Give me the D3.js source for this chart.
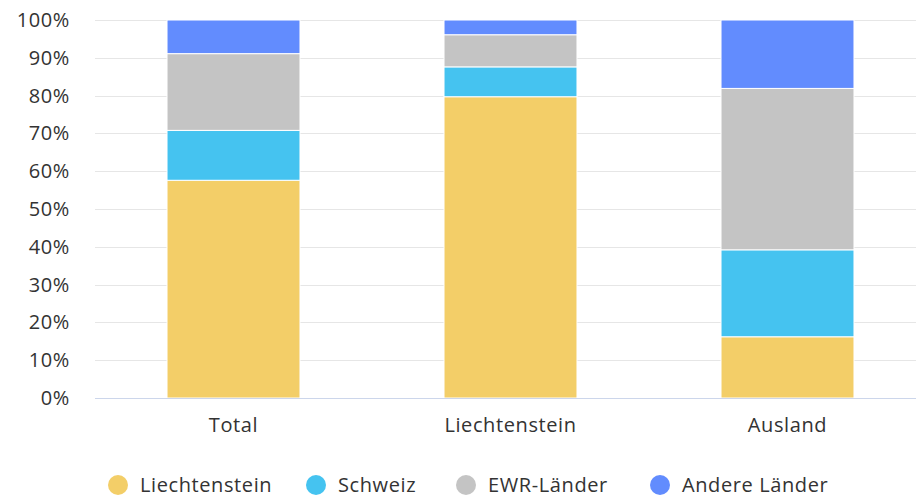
<!doctype html>
<html lang="de">
<head>
<meta charset="UTF-8" />
<title>Anteile nach Herkunft</title>
<script src="https://cdn.jsdelivr.net/npm/d3@7"></script>
<style>
  body { margin: 0; background: #fff; }
  text { font-family: "Open Sans", Lato, sans-serif; fill: #333; letter-spacing: 0.6px; }
</style>
</head>
<body>
<div id="chart"></div>
<script>
// data (shares in %)
const categories = ["Total", "Liechtenstein", "Ausland"];
const seriesNames = ["Liechtenstein", "Schweiz", "EWR-Länder", "Andere Länder"];
const liechtenstein = [57.6, 79.7, 16.2];
const schweiz = [13.2, 7.9, 23.0];
const ewr = [20.3, 8.5, 42.7];
const andere = [8.9, 3.9, 18.1];
const yTicks = [0, 10, 20, 30, 40, 50, 60, 70, 80, 90, 100];
const colors = ["#f3ce68", "#45c3f0", "#c4c4c4", "#628cfe"];

const width = 916, height = 499;
const marginLeft = 95, marginTop = 20, plotBottom = 398;
const fontSize = 20;

const rows = categories.map((c, i) => ({
  cat: c,
  "Liechtenstein": liechtenstein[i],
  "Schweiz": schweiz[i],
  "EWR-Länder": ewr[i],
  "Andere Länder": andere[i]
}));

const stack = d3.stack().keys(seriesNames).offset(d3.stackOffsetExpand);
const layers = stack(rows);

const x = d3.scaleBand()
  .domain(categories)
  .range([marginLeft, 926])
  .paddingInner(0.52)
  .paddingOuter(0.26);

const y = d3.scaleLinear().domain([0, 1]).range([plotBottom, marginTop]);

const svg = d3.select("#chart").append("svg")
  .attr("width", width)
  .attr("height", height);

// grid lines
svg.append("g")
  .selectAll("line")
  .data(yTicks.filter(t => t > 0))
  .join("line")
  .attr("x1", marginLeft)
  .attr("x2", width)
  .attr("y1", d => Math.round(y(d / 100)) + 0.5)
  .attr("y2", d => Math.round(y(d / 100)) + 0.5)
  .attr("stroke", "#e6e6e6");

// y axis labels
svg.append("g")
  .selectAll("text")
  .data(yTicks)
  .join("text")
  .attr("x", 70)
  .attr("y", d => y(d / 100))
  .attr("dy", "0.35em")
  .attr("text-anchor", "end")
  .attr("font-size", fontSize)
  .text(d => d + "%");

// bars
svg.append("g")
  .selectAll("g")
  .data(layers)
  .join("g")
  .attr("fill", (d, i) => colors[i])
  .selectAll("rect")
  .data(d => d)
  .join("rect")
  .attr("x", d => x(d.data.cat))
  .attr("width", x.bandwidth())
  .attr("y", d => y(d[1]))
  .attr("height", d => y(d[0]) - y(d[1]))
  .attr("stroke", "#fff")
  .attr("stroke-width", 1);

// baseline
svg.append("line")
  .attr("x1", marginLeft)
  .attr("x2", width)
  .attr("y1", plotBottom + 0.5)
  .attr("y2", plotBottom + 0.5)
  .attr("stroke", "#ccd6eb");

// x axis labels
svg.append("g")
  .selectAll("text")
  .data(categories)
  .join("text")
  .attr("x", d => x(d) + x.bandwidth() / 2)
  .attr("y", 425)
  .attr("dy", "0.35em")
  .attr("text-anchor", "middle")
  .attr("font-size", fontSize)
  .text(d => d);

// legend
const legendX = [118, 316, 466, 660];
const legend = svg.append("g")
  .selectAll("g")
  .data(seriesNames)
  .join("g")
  .attr("transform", (d, i) => `translate(${legendX[i]},485)`);

legend.append("circle")
  .attr("r", 10)
  .attr("fill", (d, i) => colors[i]);

legend.append("text")
  .attr("x", 22)
  .attr("dy", "0.35em")
  .attr("font-size", fontSize)
  .text(d => d);
</script>
</body>
</html>
